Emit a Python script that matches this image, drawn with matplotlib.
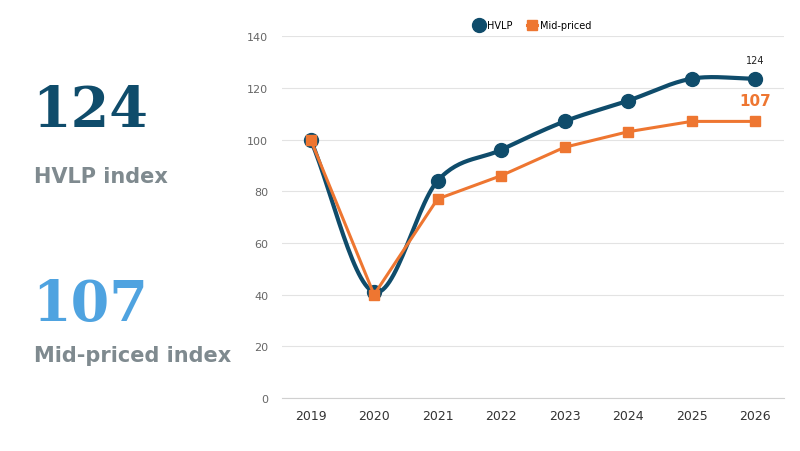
import matplotlib
matplotlib.use("Agg")
import matplotlib.pyplot as plt
import numpy as np

years = [2019, 2020, 2021, 2022, 2023, 2024, 2025, 2026]
hvlp = [100, 41, 84, 96, 107, 115, 123.5, 123.5]
mid = [100, 40, 77, 86, 97, 103, 107, 107]

HVLP_COLOR = "#0f4c6b"
MID_COLOR = "#ee7631"


def smooth(xs, ys, n=30):
    # catmull-rom curve through the points, for the smoothed line look
    x = np.asarray(xs, float)
    y = np.asarray(ys, float)
    px = np.concatenate([[2 * x[0] - x[1]], x, [2 * x[-1] - x[-2]]])
    py = np.concatenate([[2 * y[0] - y[1]], y, [2 * y[-1] - y[-2]]])
    outx, outy = [], []
    t = np.linspace(0, 1, n)
    for i in range(1, len(px) - 2):
        for p, out in ((px, outx), (py, outy)):
            p0, p1, p2, p3 = p[i - 1], p[i], p[i + 1], p[i + 2]
            out.extend(0.5 * (2 * p1 + (-p0 + p2) * t
                              + (2 * p0 - 5 * p1 + 4 * p2 - p3) * t ** 2
                              + (-p0 + 3 * p1 - 3 * p2 + p3) * t ** 3))
    return outx, outy


fig = plt.figure(figsize=(8, 4.52), dpi=100)
ax = fig.add_axes([0.3525, 0.117, 0.627, 0.801])

sx, sy = smooth(years, hvlp)
ax.plot(sx, sy, color=HVLP_COLOR, lw=3, zorder=2)
ax.plot(years, hvlp, "o", color=HVLP_COLOR, ms=10, zorder=3, label="HVLP")
ax.plot(years, mid, "-s", color=MID_COLOR, lw=2.2, ms=7, zorder=4, label="Mid-priced")

ax.set_ylim(0, 140)
ax.set_xlim(2018.55, 2026.45)
ax.set_yticks(range(0, 141, 20))
ax.set_xticks(years)
ax.grid(axis="y", color="#e3e3e3", lw=0.8)
ax.set_axisbelow(True)
for s in ["top", "right", "left"]:
    ax.spines[s].set_visible(False)
ax.spines["bottom"].set_color("#d0d0d0")
ax.tick_params(axis="y", length=0, labelsize=8, labelcolor="#666666", pad=10)
ax.tick_params(axis="x", length=0, labelsize=9, labelcolor="#333333", pad=8)

ax.annotate("124", (years[-1], hvlp[-1]), xytext=(0, 11), textcoords="offset points",
            ha="center", fontsize=7, color="#222222")
ax.annotate("107", (years[-1], mid[-1]), xytext=(0, 12), textcoords="offset points",
            ha="center", fontsize=11, color=MID_COLOR, fontweight="bold")

ax.legend(loc="lower center", bbox_to_anchor=(0.5, 1.0), ncol=2, frameon=False,
          fontsize=7, handlelength=1, handletextpad=0.3, columnspacing=1.5,
          borderaxespad=0.2)

fig.text(0.04, 0.72, "124", fontsize=40, family="DejaVu Serif", fontweight="bold",
         color=HVLP_COLOR)
fig.text(0.043, 0.595, "HVLP index", fontsize=15, fontweight="bold", color="#7f8a8f")
fig.text(0.04, 0.29, "107", fontsize=40, family="DejaVu Serif", fontweight="bold",
         color="#4fa3e0")
fig.text(0.043, 0.2, "Mid-priced index", fontsize=15, fontweight="bold", color="#7f8a8f")

fig.savefig("out.png", dpi=100)
plt.close(fig)
